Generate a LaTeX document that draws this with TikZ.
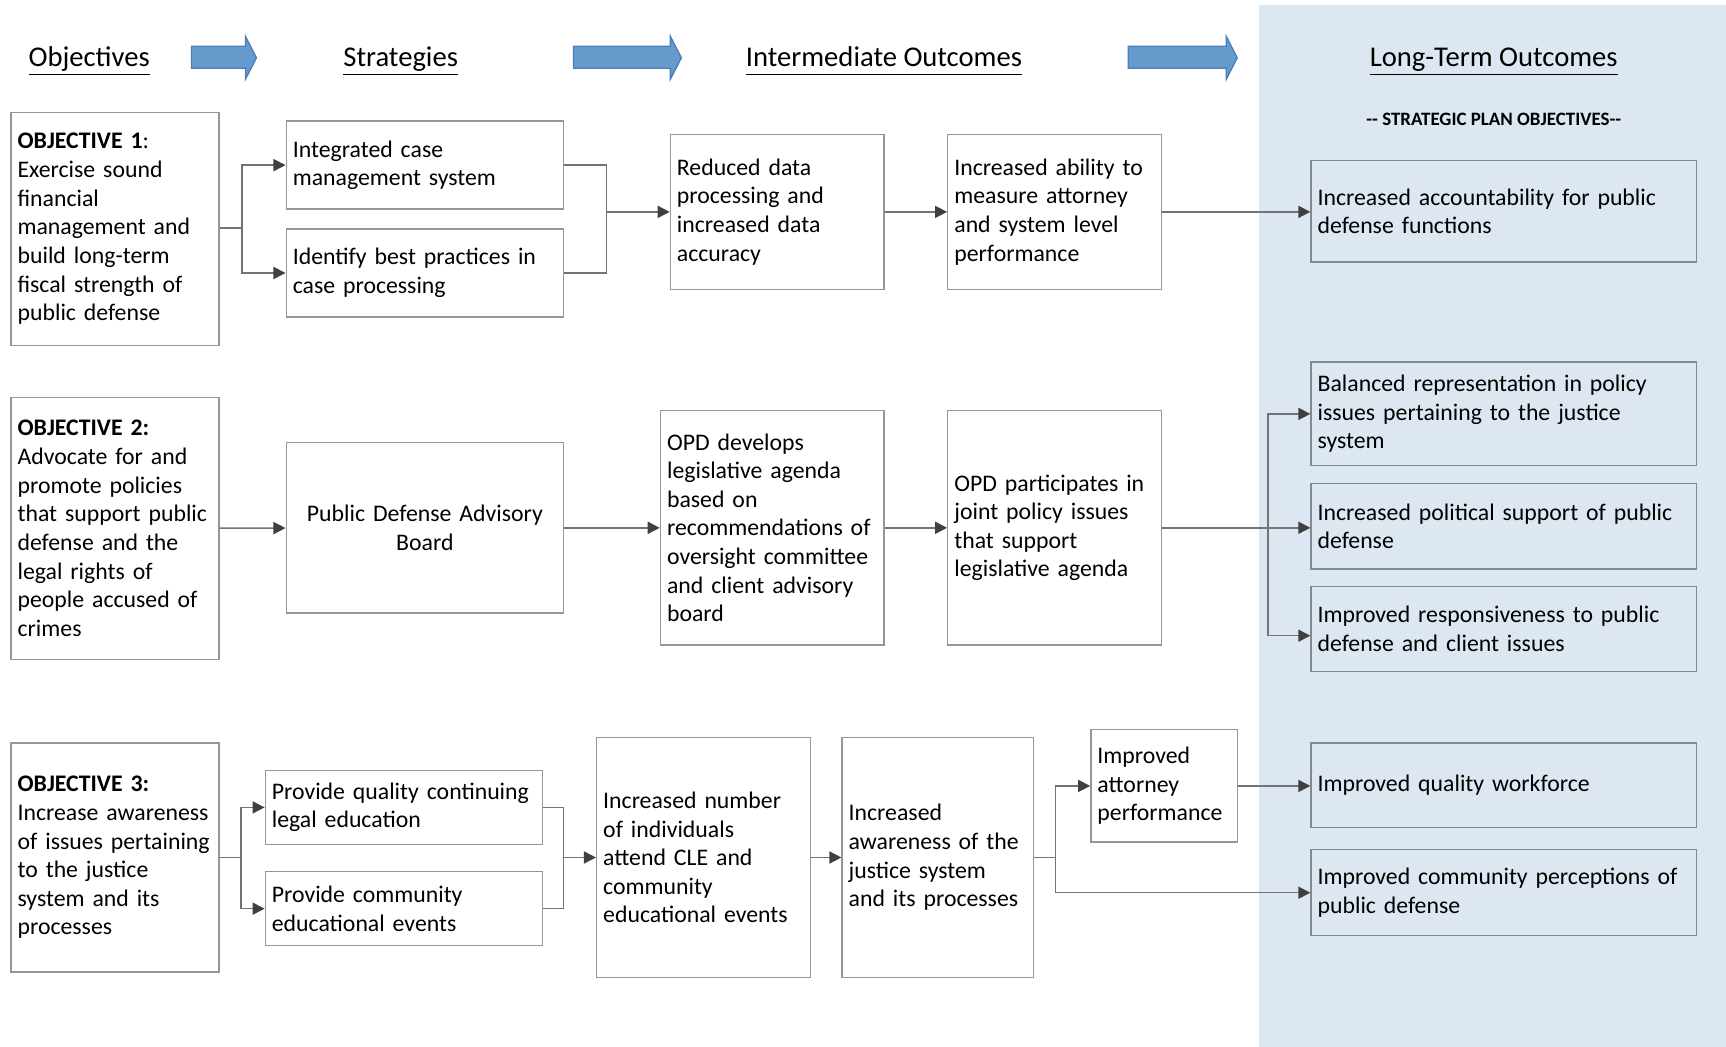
\documentclass[tikz,border=0pt]{standalone}
\usepackage{fontspec}
\setmainfont{Carlito}
\usetikzlibrary{arrows.meta}

\definecolor{panelblue}{RGB}{221,231,242}
\definecolor{arrowblue}{RGB}{102,153,204}
\definecolor{arrowedge}{RGB}{74,126,187}
\definecolor{boxgray}{RGB}{150,150,150}
\definecolor{outgray}{RGB}{128,138,150}
\definecolor{linegray}{RGB}{115,115,115}
\definecolor{tipgray}{RGB}{64,64,64}

\newcommand{\headline}[1]{\underline{\vphantom{gj}#1}}

\begin{document}
\begin{tikzpicture}
        [
            x = 0.5pt, y = -0.5pt,
            every node/.style = {font=\fontsize{10.8}{13}\selectfont},
            boxed/.style      = {shape=rectangle, draw=boxgray, line width=0.6pt, fill=white,
                                 align=left, inner xsep=3pt, inner ysep=0pt},
            outcome/.style    = {boxed, draw=outgray, fill=panelblue, text width=169pt},
            heading/.style    = {anchor=base, font=\fontsize{13}{15}\selectfont},
            plan/.style       = {font=\fontsize{8.6}{10}\selectfont\bfseries},
            line/.style       = {draw=linegray, line width=0.7pt},
            link/.style       = {line, -{Triangle[length=5.5pt, width=5.5pt, color=tipgray]}},
            ]
            \useasboundingbox (0,0) rectangle (1568,951);
            % long-term column
            \fill [panelblue] (1144,5) rectangle (1568,951);

            % column headings
            \node [heading] (hobj)  at (81,60)   {\headline{Objectives}};
            \node [heading] (hstr)  at (364,60)  {\headline{Strategies}};
            \node [heading] (hint)  at (803,60)  {\headline{Intermediate Outcomes}};
            \node [heading] (hlong) at (1357,60) {\headline{Long-Term Outcomes}};
            \node [plan]    (hplan) at (1357,108) {-{}- STRATEGIC PLAN OBJECTIVES-{}-};
            \foreach \xa/\xb in {174/233, 521/619, 1025/1124}
                \draw [fill=arrowblue, draw=arrowedge, line width=0.6pt]
                    (\xa,42) -- ({\xb-10},42) -- ({\xb-10},33) -- (\xb,52.5)
                    -- ({\xb-10},72) -- ({\xb-10},62) -- (\xa,62) -- cycle;

            % objective 1
            \node [boxed, text width=88.5pt, minimum height=106pt] (o1) at (104.5,208)
                {\textbf{OBJECTIVE 1}:\\Exercise sound\\financial\\management and\\build long-term\\fiscal strength of\\public defense};
            \node [boxed, text width=120pt, minimum height=40pt] (s1a) at (386,150)
                {Integrated case\\management system};
            \node [boxed, text width=120pt, minimum height=40pt] (s1b) at (386,248)
                {Identify best practices in\\case processing};
            \node [boxed, text width=91pt, minimum height=70.5pt] (i1a) at (706,192.5)
                {Reduced data\\processing and\\increased data\\accuracy};
            \node [boxed, text width=91pt, minimum height=70.5pt] (i1b) at (958,192.5)
                {Increased ability to\\measure attorney\\and system level\\performance};
            \node [outcome, minimum height=46pt] (l1) at (1366,192)
                {Increased accountability for public\\defense functions};

            \coordinate (j1) at (220,207);
            \coordinate (m1) at (551,192.5);
            \draw [link] (o1.east |- j1) -- (j1) |- (s1a.west);
            \draw [link] (j1) |- (s1b.west);
            \draw [line] (s1a.east) -| (m1);
            \draw [line] (s1b.east) -| (m1);
            \draw [link] (m1) -- (i1a.west);
            \draw [link] (i1a) -- (i1b);
            \draw [link] (i1b.east) -- (i1b.east -| l1.west);

            % objective 2
            \node [boxed, text width=88.5pt, minimum height=119pt] (o2) at (104.5,480)
                {\textbf{OBJECTIVE 2:}\\Advocate for and\\promote policies\\that support public\\defense and the\\legal rights of\\people accused of\\crimes};
            \node [boxed, align=center, text width=120pt, minimum height=77.5pt] (s2) at (386,479.5)
                {Public Defense Advisory\\Board};
            \node [boxed, text width=95.5pt, minimum height=106.5pt] (i2a) at (701.5,479.5)
                {OPD develops\\legislative agenda\\based on\\recommendations of\\oversight committee\\and client advisory\\board};
            \node [boxed, text width=91pt, minimum height=106.5pt] (i2b) at (958,479.5)
                {OPD participates in\\joint policy issues\\that support\\legislative agenda};
            \node [outcome, minimum height=47pt] (l2a) at (1366,376)
                {Balanced representation in policy\\issues pertaining to the justice\\system};
            \node [outcome, minimum height=39pt] (l2b) at (1366,478)
                {Increased political support of public\\defense};
            \node [outcome, minimum height=38.5pt] (l2c) at (1366,571.5)
                {Improved responsiveness to public\\defense and client issues};

            \coordinate (j2) at (1152,479.5);
            \draw [link] (o2) -- (s2);
            \draw [link] (s2) -- (i2a);
            \draw [link] (i2a) -- (i2b);
            \draw [link] (i2b.east) -- (i2b.east -| l2b.west);
            \draw [link] (j2) |- (l2a.west);
            \draw [link] (j2) |- ([yshift=-3pt]l2c.west);

            % objective 3
            \node [boxed, text width=88.5pt, minimum height=104pt] (o3) at (104.5,779)
                {\textbf{OBJECTIVE 3:}\\Increase awareness\\of issues pertaining\\to the justice\\system and its\\processes};
            \node [boxed, text width=120pt, minimum height=33.5pt] (s3a) at (367,733.5)
                {Provide quality continuing\\legal education};
            \node [boxed, text width=120pt, minimum height=33.5pt] (s3b) at (367,825.5)
                {Provide community\\educational events};
            \node [boxed, text width=91pt, minimum height=109pt] (i3a) at (639,779)
                {Increased number\\of individuals\\attend CLE and\\community\\educational events};
            \node [boxed, text width=81pt, minimum height=109pt] (i3b) at (852,779)
                {Increased\\awareness of the\\justice system\\and its processes};
            \node [boxed, text width=60.5pt, minimum height=51pt] (i3c) at (1057.5,714)
                {Improved\\attorney\\performance};
            \node [outcome, minimum height=38.5pt] (l3a) at (1366,713.5)
                {Improved quality workforce};
            \node [outcome, minimum height=39pt] (l3b) at (1366,811)
                {Improved community perceptions of\\public defense};

            \coordinate (j3) at (219,779);
            \coordinate (m3) at (512,779);
            \coordinate (j4) at (959,779);
            \draw [link] (o3.east) -- (j3) |- (s3a.west);
            \draw [link] (j3) |- (s3b.west);
            \draw [line] (s3a.east) -| (m3);
            \draw [line] (s3b.east) -| (m3);
            \draw [link] (m3) -- (i3a.west);
            \draw [link] (i3a) -- (i3b);
            \draw [line] (i3b.east) -- (j4);
            \draw [link] (j4) |- (i3c.west);
            \draw [link] (j4) |- (l3b.west);
            \draw [link] (i3c.east) -- (i3c.east -| l3a.west);
        \end{tikzpicture}
\end{document}
